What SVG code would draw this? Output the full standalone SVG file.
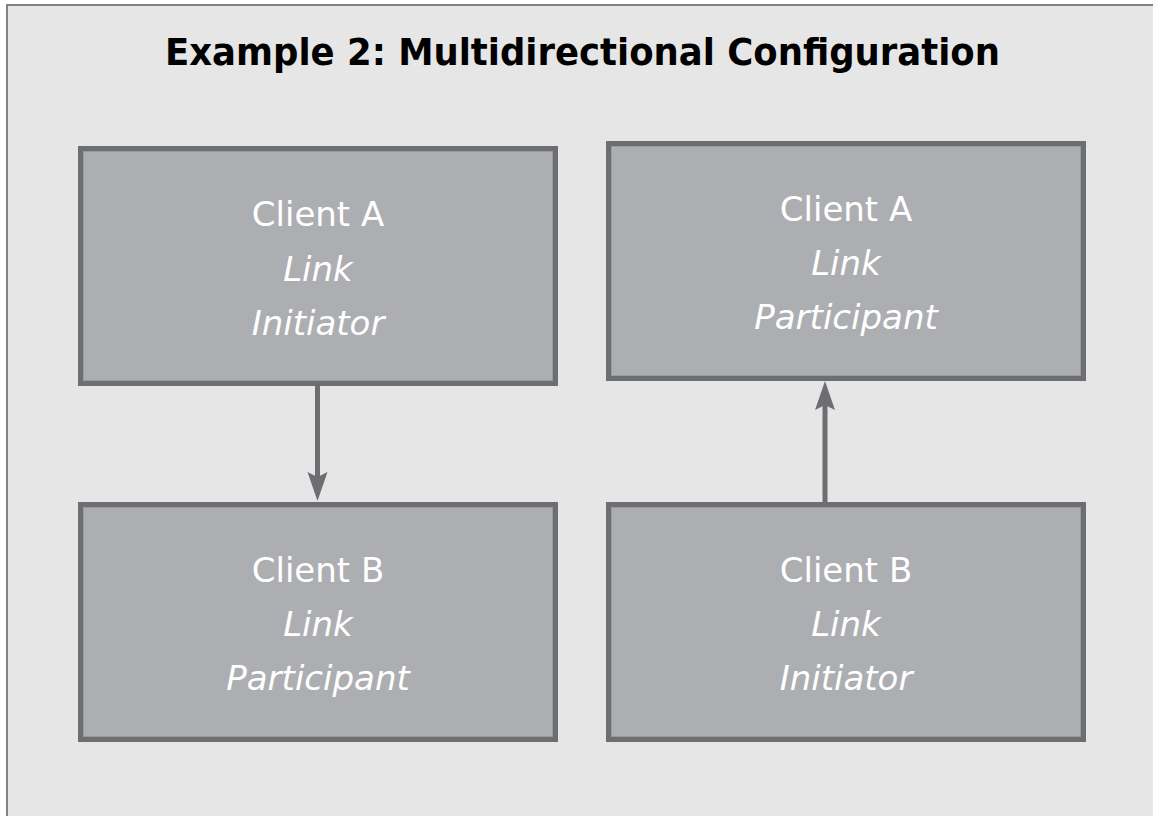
<svg xmlns="http://www.w3.org/2000/svg" width="1153" height="816" viewBox="0 0 1153 816">
  <style>
    .frame { fill: #e6e6e6; stroke: #828282; stroke-width: 2; }
    .box { fill: #adaeb1; stroke: #6d6e71; stroke-width: 5; }
    .inner { fill: none; stroke: #9a9b9e; stroke-width: 1; }
    .title { font-family: "DejaVu Sans", "Liberation Sans", sans-serif; font-weight: bold; font-size: 38px; fill: #000; text-anchor: middle; }
    .lbl { font-family: "DejaVu Sans", "Liberation Sans", sans-serif; font-size: 34px; fill: #ffffff; text-anchor: middle; }
    .it { font-style: italic; }
    .wire { stroke: #6d6e71; stroke-width: 5; fill: none; }
    .head { fill: #6d6e71; }
  </style>

  <rect width="1153" height="816" fill="#ffffff"/>
  <rect class="frame" x="7" y="5" width="1160" height="820"/>

  <text class="title" x="582.5" y="65" textLength="835" lengthAdjust="spacingAndGlyphs">Example 2: Multidirectional Configuration</text>

  <g id="connectors">
    <line class="wire" x1="317.5" y1="386" x2="317.5" y2="478"/>
    <path class="head" d="M307.5,472 L317.5,501 L327.5,472 L317.5,477 Z"/>
    <line class="wire" x1="825" y1="502" x2="825" y2="404"/>
    <path class="head" d="M815,410 L825,381 L835,410 L825,405 Z"/>
  </g>

  <g id="clientA-initiator">
    <rect class="box" x="80.5" y="148.5" width="475" height="235"/>
    <rect class="inner" x="83.5" y="151.5" width="469" height="229"/>
    <text class="lbl" x="318" y="226">Client A</text>
    <text class="lbl it" x="318" y="281">Link</text>
    <text class="lbl it" x="318" y="335">Initiator</text>
  </g>

  <g id="clientA-participant">
    <rect class="box" x="608.5" y="143.5" width="475" height="235"/>
    <rect class="inner" x="611.5" y="146.5" width="469" height="229"/>
    <text class="lbl" x="846" y="221">Client A</text>
    <text class="lbl it" x="846" y="275">Link</text>
    <text class="lbl it" x="846" y="329">Participant</text>
  </g>

  <g id="clientB-participant">
    <rect class="box" x="80.5" y="504.5" width="475" height="235"/>
    <rect class="inner" x="83.5" y="507.5" width="469" height="229"/>
    <text class="lbl" x="318" y="582">Client B</text>
    <text class="lbl it" x="318" y="636">Link</text>
    <text class="lbl it" x="318" y="690">Participant</text>
  </g>

  <g id="clientB-initiator">
    <rect class="box" x="608.5" y="504.5" width="475" height="235"/>
    <rect class="inner" x="611.5" y="507.5" width="469" height="229"/>
    <text class="lbl" x="846" y="582">Client B</text>
    <text class="lbl it" x="846" y="636">Link</text>
    <text class="lbl it" x="846" y="690">Initiator</text>
  </g>
</svg>
